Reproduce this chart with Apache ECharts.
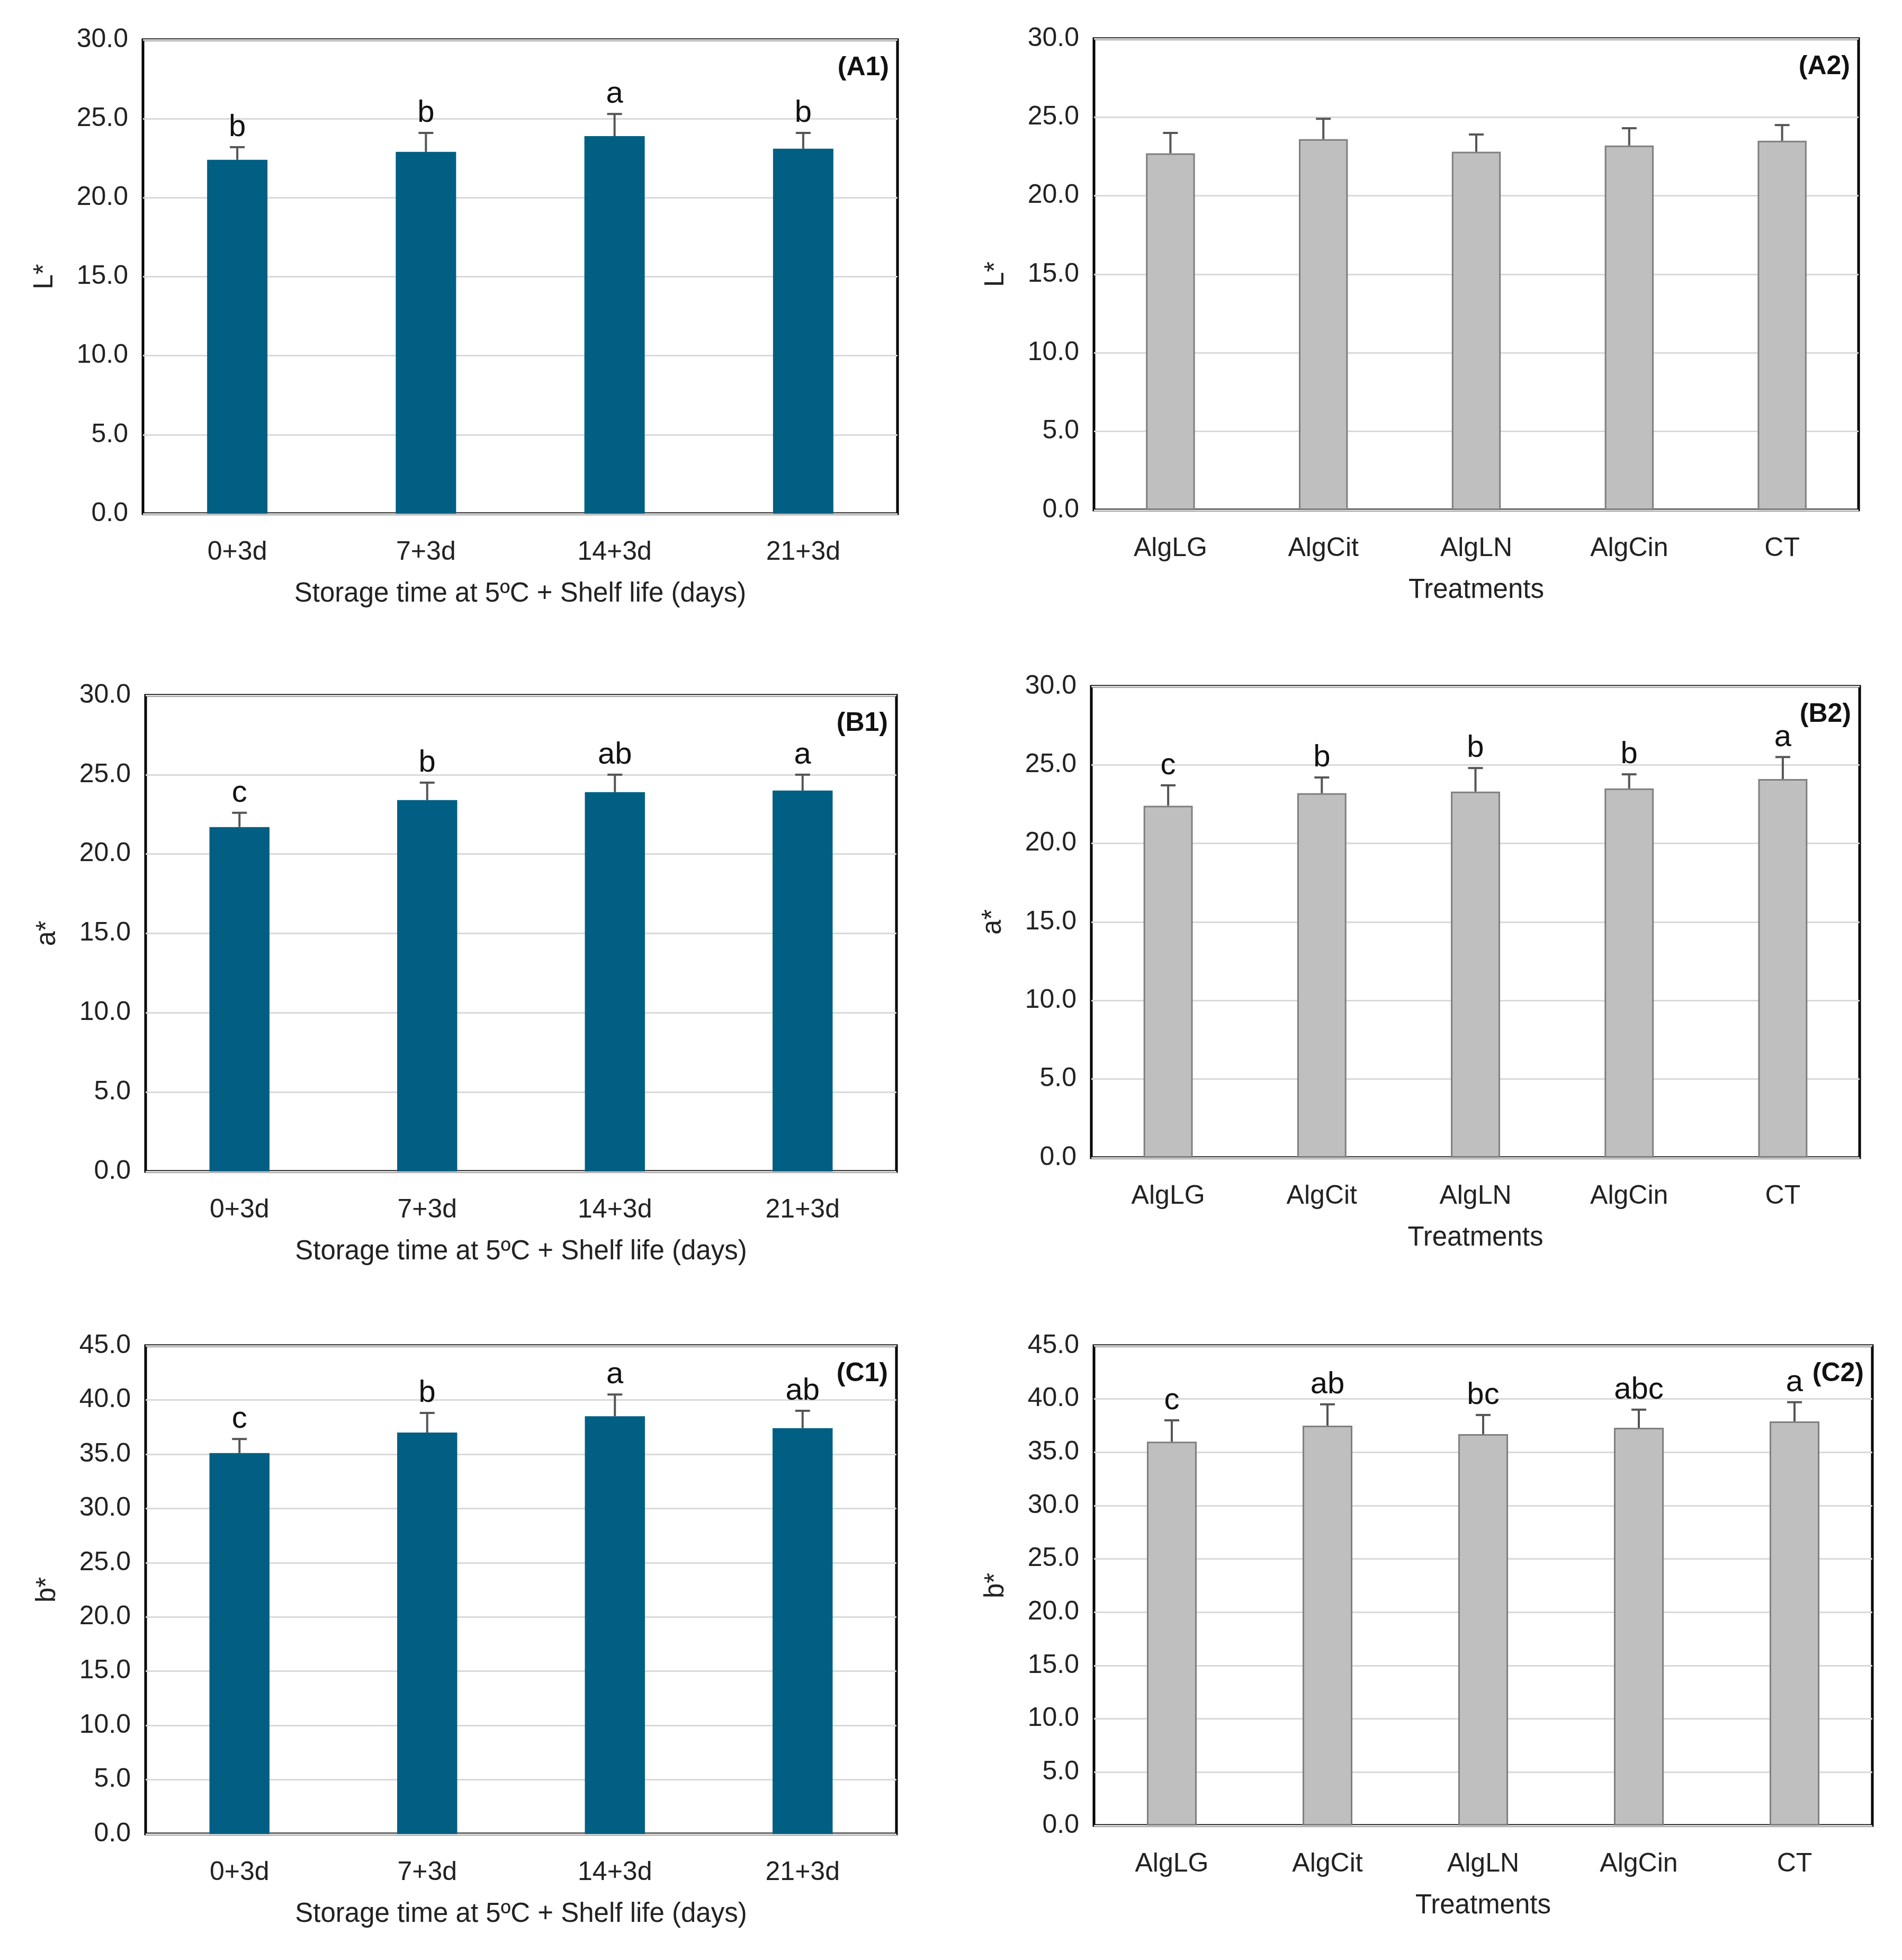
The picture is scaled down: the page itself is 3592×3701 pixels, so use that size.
<!DOCTYPE html>
<html>
<head>
<meta charset="utf-8" />
<script src="https://cdn.jsdelivr.net/npm/echarts@6/dist/echarts.min.js"></script>
<style>body{margin:0;background:#fff}</style>
</head>
<body>
<div id="main" style="width:3592px;height:3701px"></div>
<script>
// categories
var storageDays = ["0+3d", "7+3d", "14+3d", "21+3d"];
var treatments = ["AlgLG", "AlgCit", "AlgLN", "AlgCin", "CT"];

// L*
var L1 = [22.4, 22.9, 23.9, 23.1], L1err = [0.8, 1.2, 1.4, 1.0], L1let = ["b", "b", "a", "b"];
var L2 = [22.7, 23.6, 22.8, 23.2, 23.5], L2err = [1.3, 1.3, 1.1, 1.1, 1.0], L2let = ["", "", "", "", ""];
// a*
var A1 = [21.7, 23.4, 23.9, 24.0], A1err = [0.9, 1.1, 1.1, 1.0], A1let = ["c", "b", "ab", "a"];
var A2 = [22.4, 23.2, 23.3, 23.5, 24.1], A2err = [1.3, 1.0, 1.5, 0.9, 1.4], A2let = ["c", "b", "b", "b", "a"];
// b*
var B1 = [35.1, 37.0, 38.5, 37.4], B1err = [1.3, 1.8, 2.0, 1.6], B1let = ["c", "b", "a", "ab"];
var B2 = [36.0, 37.5, 36.7, 37.3, 37.9], B2err = [2.0, 2.0, 1.8, 1.7, 1.8], B2let = ["c", "ab", "bc", "abc", "a"];

var FONT = "Liberation Sans";
var BLUE = "#005f83";

var panels = [
  {tag: "(A1)", name: "L*", cats: storageDays, v: L1, e: L1err, l: L1let, max: 30, itv: 5, blue: true, x: "Storage time at 5ºC + Shelf life (days)", g: {left: 270, width: 1425, top: 75, height: 895}},
  {tag: "(A2)", name: "L*", cats: treatments, v: L2, e: L2err, l: L2let, max: 30, itv: 5, blue: false, x: "Treatments", g: {left: 2066, width: 1444, top: 73, height: 890}},
  {tag: "(B1)", name: "a*", cats: storageDays, v: A1, e: A1err, l: A1let, max: 30, itv: 5, blue: true, x: "Storage time at 5ºC + Shelf life (days)", g: {left: 275, width: 1418, top: 1313, height: 899}},
  {tag: "(B2)", name: "a*", cats: treatments, v: A2, e: A2err, l: A2let, max: 30, itv: 5, blue: false, x: "Treatments", g: {left: 2061, width: 1451, top: 1296, height: 890}},
  {tag: "(C1)", name: "b*", cats: storageDays, v: B1, e: B1err, l: B1let, max: 45, itv: 5, blue: true, x: "Storage time at 5ºC + Shelf life (days)", g: {left: 275, width: 1418, top: 2541, height: 922}},
  {tag: "(C2)", name: "b*", cats: treatments, v: B2, e: B2err, l: B2let, max: 45, itv: 5, blue: false, x: "Treatments", g: {left: 2066, width: 1470, top: 2541, height: 906}}
];

var grid = [], xAxis = [], yAxis = [], series = [], graphic = [];
panels.forEach(function (p, i) {
  grid.push(Object.assign({show: true, borderColor: "#000", borderWidth: 5, backgroundColor: "#fff"}, p.g));
  xAxis.push({
    type: "category", gridIndex: i, data: p.cats,
    name: p.x, nameLocation: "middle", nameGap: 126,
    nameTextStyle: {fontFamily: FONT, fontSize: 51, color: "#222"},
    axisLine: {show: false}, axisTick: {show: false},
    axisLabel: {fontFamily: FONT, fontSize: 50, color: "#222", margin: 48}
  });
  yAxis.push({
    type: "value", gridIndex: i, min: 0, max: p.max, interval: p.itv,
    name: p.name, nameLocation: "middle", nameGap: 160, nameRotate: 90,
    nameTextStyle: {fontFamily: FONT, fontSize: 51, color: "#222"},
    axisLine: {show: false}, axisTick: {show: false},
    axisLabel: {fontFamily: FONT, fontSize: 50, color: "#222", margin: 28, formatter: function (v) { return v.toFixed(1); }},
    splitLine: {lineStyle: {color: "#d9d9d9", width: 3}}
  });
  series.push({
    type: "bar", xAxisIndex: i, yAxisIndex: i, data: p.v, barWidth: "32%",
    itemStyle: p.blue ? {color: BLUE} : {color: "#bfbfbf", borderColor: "#7f7f7f", borderWidth: 3},
    z: 2
  });
  var err = p.v.map(function (v, k) { return [k, v, p.e[k]]; });
  series.push({
    type: "custom", xAxisIndex: i, yAxisIndex: i, data: err, z: 3,
    renderItem: (function (p) {
      return function (params, api) {
        var x = api.value(0), v = api.value(1), e = api.value(2);
        var b = api.coord([x, v]), t = api.coord([x, v + e]);
        var col = "#555";
        var kids = [
          {type: "line", shape: {x1: b[0], y1: b[1], x2: t[0], y2: t[1]}, style: {stroke: col, lineWidth: 4}},
          {type: "line", shape: {x1: t[0] - 14, y1: t[1], x2: t[0] + 14, y2: t[1]}, style: {stroke: col, lineWidth: 4}}
        ];
        var lt = p.l[params.dataIndex];
        if (lt) kids.push({type: "text", x: t[0], y: t[1] - 8, style: {text: lt, fontFamily: FONT, fontSize: 58, fill: "#111", align: "center", verticalAlign: "bottom"}});
        return {type: "group", children: kids};
      };
    })(p)
  });
  graphic.push({
    type: "text", right: 3592 - (p.g.left + p.g.width) + 16, top: p.g.top + 28,
    style: {text: p.tag, fontFamily: FONT, fontSize: 50, fontWeight: "bold", fill: "#111"}
  });
});

var myChart = echarts.init(document.getElementById("main"));
myChart.setOption({animation: false, grid: grid, xAxis: xAxis, yAxis: yAxis, series: series, graphic: graphic});
</script>
</body>
</html>
